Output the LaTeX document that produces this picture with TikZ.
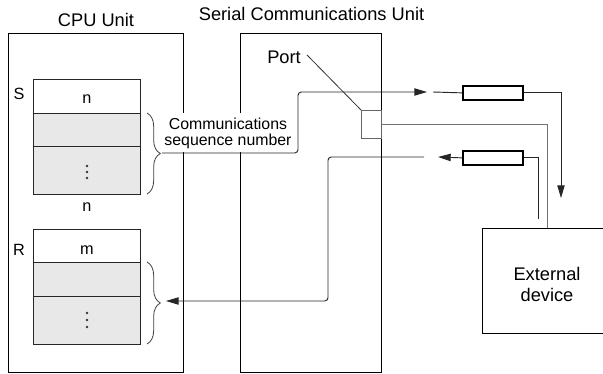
\documentclass[tikz,border=0pt]{standalone}
\usepackage{fontspec}
\setmainfont{Liberation Sans}
\usetikzlibrary{arrows.meta,decorations.pathreplacing}
\def\pxu{0.75pt}
\begin{document}
\begin{tikzpicture}[x=0.75pt,y=-0.75pt,
  unitbox/.style={draw=black, line width=1.1pt, inner sep=0pt, anchor=north west},
  cellw/.style={draw=black!85, line width=0.9pt, fill=white, inner sep=0pt, anchor=north west, minimum width=107*\pxu},
  cellg/.style={cellw, fill=gray!18},
  resbox/.style={draw=black, line width=1.3pt, fill=white, inner sep=0pt, anchor=north west, minimum width=60*\pxu, minimum height=14*\pxu},
  portbox/.style={draw=black!60, line width=0.8pt, inner sep=0pt, anchor=north west, minimum width=20*\pxu, minimum height=28*\pxu},
  conn/.style={draw=black!85, line width=0.7pt},
  gconn/.style={draw=black!55, line width=0.8pt},
  tip/.style={-{Triangle[length=9.5pt,width=5.5pt]}},
  bigtxt/.style={font=\fontsize{13.7}{16}\selectfont, inner sep=0pt},
  midtxt/.style={font=\fontsize{12.2}{14}\selectfont, inner sep=0pt},
  brc/.style={draw=black!75, line width=0.6pt, decorate, decoration={brace, amplitude=10pt}},
  vdot/.style={fill=black!80, draw=none, circle, inner sep=0pt, minimum size=1.9pt}
]
\useasboundingbox (0,0) rectangle (603,374);
\fill[white] (0,0) rectangle (603,374);

% titles
\node[bigtxt, anchor=base] (cputitle) at (96,27) {CPU Unit};
\node[bigtxt, anchor=base] (sertitle) at (311.5,21) {Serial Communications Unit};

% unit boxes
\node[unitbox, minimum width=175*\pxu, minimum height=339*\pxu] (cpu) at (8,33) {};
\node[unitbox, minimum width=141*\pxu, minimum height=339*\pxu] (ser) at (240,33) {};

% S block
\node[cellw, minimum height=34*\pxu] (s1) at (33,79) {};
\node[cellg, minimum height=33*\pxu] (s2) at (33,113) {};
\node[cellg, minimum height=48*\pxu] (s3) at (33,146) {};
\node[midtxt, anchor=base] (sn) at (87,104) {n};
\node[midtxt, anchor=base] (slbl) at (19,100) {S};
\node[midtxt, anchor=base] (snb) at (87,211) {n};
\node[vdot] (sd1) at (87,166) {};
\node[vdot] (sd2) at (87,172) {};
\node[vdot] (sd3) at (87,178) {};

% R block
\node[cellw, minimum height=33*\pxu] (r1c) at (33,229) {};
\node[cellg, minimum height=34*\pxu] (r2c) at (33,262) {};
\node[cellg, minimum height=48*\pxu] (r3c) at (33,296) {};
\node[midtxt, anchor=base] (rm) at (87,254) {m};
\node[midtxt, anchor=base] (rlbl) at (19,255) {R};
\node[vdot] (rd1) at (87,313) {};
\node[vdot] (rd2) at (87,320) {};
\node[vdot] (rd3) at (87,327) {};

% braces
\draw[brc] (147,113) -- (147,194);
\draw[brc] (147,262) -- (147,344);

% label with white background
\node[fill=white, inner xsep=3pt, inner ysep=0pt, minimum height=39*\pxu, align=center,
      font=\fontsize{11.9}{12}\selectfont] (lbl) at (228,133) {Communications\\sequence number};

% coordinates
\coordinate (stip) at (162,153);
\coordinate (sout) at (427,92);
\coordinate (sin) at (433,92);
\coordinate (dtip) at (561,198);
\coordinate (rin) at (538,219);
\coordinate (rtip) at (438,157);
\coordinate (rout) at (424,157);
\coordinate (rbr) at (166,301);
\coordinate (lead) at (307,55);

% port
\node[portbox] (port) at (361,110) {};
\node[bigtxt, anchor=base] (porttxt) at (284,64) {Port};
\draw[draw=black!80, line width=0.6pt] (lead) -- (port.north west);

% resistors
\node[resbox] (res1) at (462,85) {};
\node[resbox] (res2) at (462,150) {};

% external device
\node[unitbox, minimum width=130*\pxu, minimum height=105*\pxu] (ext) at (482,228) {};
\node[align=center, anchor=base, inner sep=0pt, font=\fontsize{13.7}{15.75}\selectfont] (exttxt) at (547,301) {External\\device};

% connectors
\draw[conn, rounded corners=2.5pt, tip] (stip) -- (298,153) -- (298,92) -- (sout);
\draw[conn] (sin) -- (res1.west);
\draw[conn, tip] (res1.east) -| (dtip);
\draw[gconn] (port.east) -| (ext.north);
\draw[conn] (rin) |- (res2.east);
\draw[conn, tip] (res2.west) -- (rtip);
\draw[conn, rounded corners=2.5pt, tip] (rout) -- (328,157) -- (328,301) -- (rbr);
\end{tikzpicture}
\end{document}
